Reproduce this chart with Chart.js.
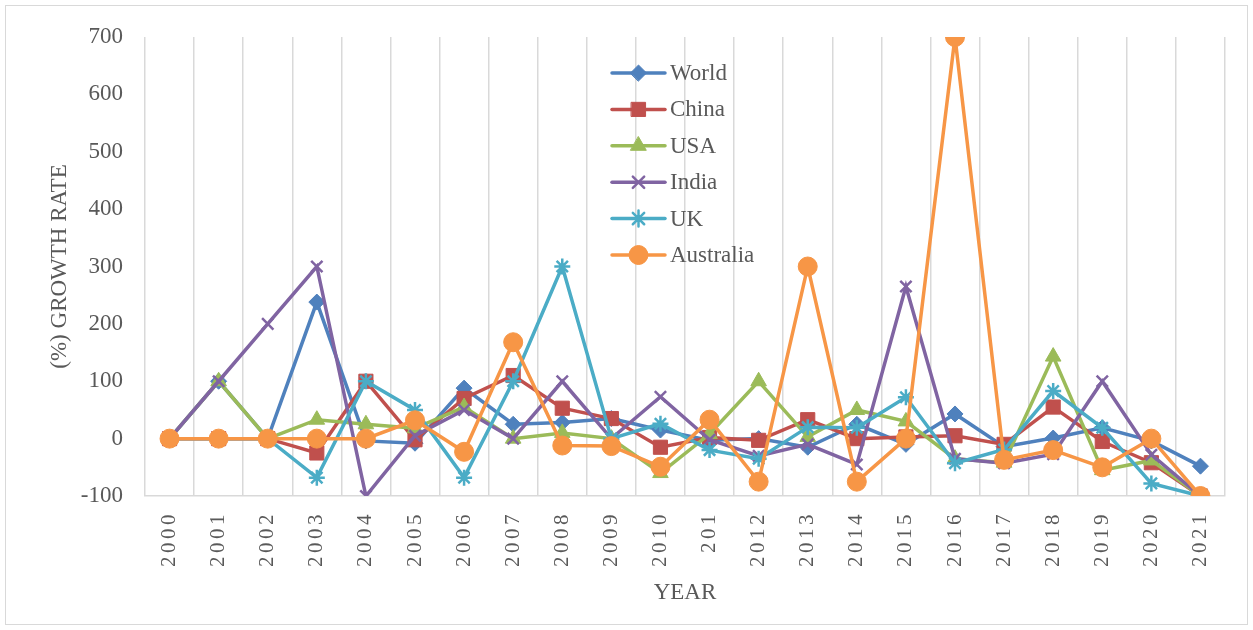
<!DOCTYPE html>
<html>
<head>
<meta charset="utf-8">
<script src="https://cdn.jsdelivr.net/npm/chart.js@4/dist/chart.umd.min.js"></script>
<style>
  html, body { margin: 0; padding: 0; background: #fff; }
  #wrap { width: 1253px; height: 630px; }
</style>
</head>
<body>
<div id="wrap"><canvas id="chart"></canvas></div>
<script>
// ─── DATA ─────────────────────────────────────────────────────────────────────
const YEARS = ['2000','2001','2002','2003','2004','2005','2006','2007','2008','2009','2010',
               '201','2012','2013','2014','2015','2016','2017','2018','2019','2020','2021'];
const Y_TICKS = [-100, 0, 100, 200, 300, 400, 500, 600, 700];

const WORLD     = [0, 100, 0, 238, -4, -8, 88, 25, 28, 35, 15, -3, 0, -15, 25, -10, 43, -14, 1, 19, -4, -48];
const CHINA     = [0, 0, 0, -25, 100, -2, 70, 110, 53, 35, -15, 2, -3, 33, 0, 3, 5, -10, 55, -5, -42, -100];
const USA       = [0, 100, 0, 33, 25, 18, 55, 0, 10, 0, -60, 8, 100, 3, 50, 30, -35, -42, 143, -55, -38, -100];
const INDIA     = [0, 100, 200, 300, -100, 5, 50, 0, 100, 0, 73, -2, -30, -10, -45, 265, -35, -43, -27, 100, -28, -100];
const UK        = [0, 0, 0, -68, 100, 50, -68, 100, 300, 0, 26, -20, -35, 20, 19, 72, -43, -19, 83, 19, -78, -100];
const AUSTRALIA = [0, 0, 0, 0, 0, 32, -23, 168, -12, -13, -49, 33, -75, 300, -75, 0, 700, -37, -20, -50, 0, -100];

const SERIES_NAMES = ['World', 'China', 'USA', 'India', 'UK', 'Australia'];
const SERIES_DATA  = [WORLD, CHINA, USA, INDIA, UK, AUSTRALIA];

// ─── STYLE ────────────────────────────────────────────────────────────────────
const COLORS  = ['#4f81bd', '#c0504d', '#9bbb59', '#8064a2', '#4bacc6', '#f79646'];
const MARKERS = ['rectRot', 'rect', 'triangle', 'crossRot', 'star', 'circle'];
const RADII   = [8, 10, 9, 8, 8, 9.5];
const MBORDER = [1, 1, 1, 2.5, 2.5, 1];
const FONT    = '"Liberation Serif", "Times New Roman", serif';
const TXT     = '#595959';
const GRID    = '#d9d9d9';

// x labels in the picture are slightly letter-spaced
class SpacedCategoryScale extends Chart.CategoryScale {
  drawLabels(chartArea) {
    const ctx = this.ctx;
    ctx.save();
    ctx.letterSpacing = '3.5px';
    super.drawLabels(chartArea);
    ctx.restore();
  }
}
SpacedCategoryScale.id = 'spacedCategory';
SpacedCategoryScale.defaults = Chart.CategoryScale.defaults;
Chart.register(SpacedCategoryScale);

// ─── PLUGINS ──────────────────────────────────────────────────────────────────
const frame = {
  id: 'frame',
  beforeDraw(chart) {
    const ctx = chart.ctx;
    ctx.save();
    ctx.fillStyle = '#fff';
    ctx.fillRect(0, 0, chart.width, chart.height);
    ctx.strokeStyle = GRID;
    ctx.lineWidth = 1;
    ctx.strokeRect(5.5, 5.5, chart.width - 11, chart.height - 11);
    ctx.restore();
  }
};

const insideLegend = {
  id: 'insideLegend',
  afterDraw(chart) {
    const ctx = chart.ctx;
    const x0 = 612, x1 = 665, top = 73, step = 36.4;
    ctx.save();
    chart.data.datasets.forEach((ds, i) => {
      const y = top + i * step;
      ctx.strokeStyle = ds.borderColor;
      ctx.lineWidth = 3.5;
      ctx.lineCap = 'round';
      ctx.beginPath(); ctx.moveTo(x0, y); ctx.lineTo(x1, y); ctx.stroke();
      ctx.fillStyle = ds.pointBackgroundColor;
      ctx.strokeStyle = ds.pointBorderColor;
      ctx.lineWidth = ds.pointBorderWidth;
      if (Chart.helpers && Chart.helpers.drawPoint) {
        Chart.helpers.drawPoint(ctx, { pointStyle: ds.pointStyle, radius: ds.pointRadius, rotation: 0, borderWidth: ds.pointBorderWidth }, (x0 + x1) / 2, y);
      }
      ctx.fillStyle = TXT;
      ctx.font = '23px ' + FONT;
      ctx.textAlign = 'left';
      ctx.textBaseline = 'middle';
      ctx.fillText(ds.label, x1 + 5, y + 1);
    });
    ctx.restore();
  }
};

// ─── CHART ────────────────────────────────────────────────────────────────────
const datasets = SERIES_NAMES.map((name, i) => ({
  label: name,
  data: SERIES_DATA[i],
  borderColor: COLORS[i],
  backgroundColor: COLORS[i],
  borderWidth: 3.5,
  tension: 0,
  pointStyle: MARKERS[i],
  pointRadius: RADII[i],
  pointHoverRadius: RADII[i],
  pointBackgroundColor: COLORS[i],
  pointBorderColor: COLORS[i],
  pointBorderWidth: MBORDER[i],
  order: SERIES_NAMES.length - i   // Australia drawn on top
}));

new Chart(document.getElementById('chart'), {
  type: 'line',
  data: { labels: YEARS, datasets },
  options: {
    responsive: true, maintainAspectRatio: false, animation: false,
    devicePixelRatio: 1,
    layout: { padding: { top: 37, right: 28, bottom: 0, left: 0 } },
    plugins: { legend: { display: false }, tooltip: { enabled: false } },
    scales: {
      x: {
        type: 'spacedCategory',
        offset: true,
        grid: { display: true, offset: true, color: GRID, lineWidth: 1.5, drawTicks: false },
        border: { display: true, color: GRID, width: 1.5 },
        ticks: {
          autoSkip: false, minRotation: 90, maxRotation: 90, padding: 15,
          color: TXT, font: { family: FONT, size: 21 }
        },
        title: { display: true, text: 'YEAR', color: TXT, font: { family: FONT, size: 23 }, padding: { top: 0, bottom: 23 } },
        afterFit: s => { s.height = 630 - 496; }
      },
      y: {
        min: -100, max: 700,
        afterBuildTicks: s => { s.ticks = Y_TICKS.map(v => ({ value: v })); },
        grid: { display: false, drawTicks: false },
        border: { display: false },
        ticks: { padding: 22, color: TXT, font: { family: FONT, size: 23 } },
        title: { display: true, text: '(%) GROWTH RATE', color: TXT, font: { family: FONT, size: 23 }, padding: { top: 46, bottom: 0 } },
        afterFit: s => { s.width = 145; }
      }
    }
  },
  plugins: [frame, insideLegend]
});
</script>
</body>
</html>
